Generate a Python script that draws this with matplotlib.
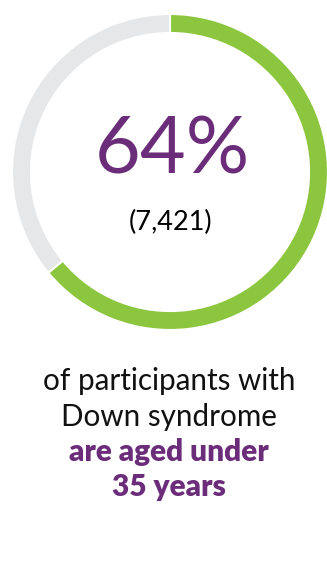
import matplotlib
matplotlib.use("Agg")
import matplotlib.pyplot as plt

# Share of participants with Down syndrome aged under 35
labels = ["Under 35", "35 and over"]
shares = [64, 36]
count_under_35 = 7421
colors = ["#8CC63F", "#E6E7E8"]
purple = "#6B2C7A"

W, H = 327, 577
fig = plt.figure(figsize=(W / 100, H / 100), dpi=100)
fig.patch.set_facecolor("white")

# ring: centre (170, 172) px from top-left, outer radius 158 px
cx, cy, r = 170, 172, 158
ax = fig.add_axes([(cx - r) / W, (H - cy - r) / H, 2 * r / W, 2 * r / H])
ax.pie(shares, colors=colors, startangle=90, counterclock=False, radius=1.0,
       wedgeprops=dict(width=0.12, edgecolor="white", linewidth=1.5))
ax.set_xlim(-1.0, 1.0)
ax.set_ylim(-1.0, 1.0)
ax.set_aspect("equal")
ax.axis("off")

font = ["Lato", "DejaVu Sans"]


def px(x, y):
    return x / W, 1 - y / H


fig.text(*px(172, 151), f"{shares[0]}%", ha="center", va="center",
         fontsize=57, color=purple, family=font)
fig.text(*px(171, 222), f"({count_under_35:,})", ha="center", va="center",
         fontsize=19.5, color="black", family=font)

fig.text(*px(169, 390), "of participants with", ha="center", va="baseline",
         fontsize=21.3, color="#111111", family=font)
fig.text(*px(169, 426), "Down syndrome", ha="center", va="baseline",
         fontsize=21.3, color="#111111", family=font)
fig.text(*px(169, 461), "are aged under", ha="center", va="baseline",
         fontsize=21.5, color=purple, family=font, fontweight="heavy")
fig.text(*px(169, 496), "35 years", ha="center", va="baseline",
         fontsize=21.5, color=purple, family=font, fontweight="heavy")

fig.savefig("out.png", dpi=100, facecolor="white")
